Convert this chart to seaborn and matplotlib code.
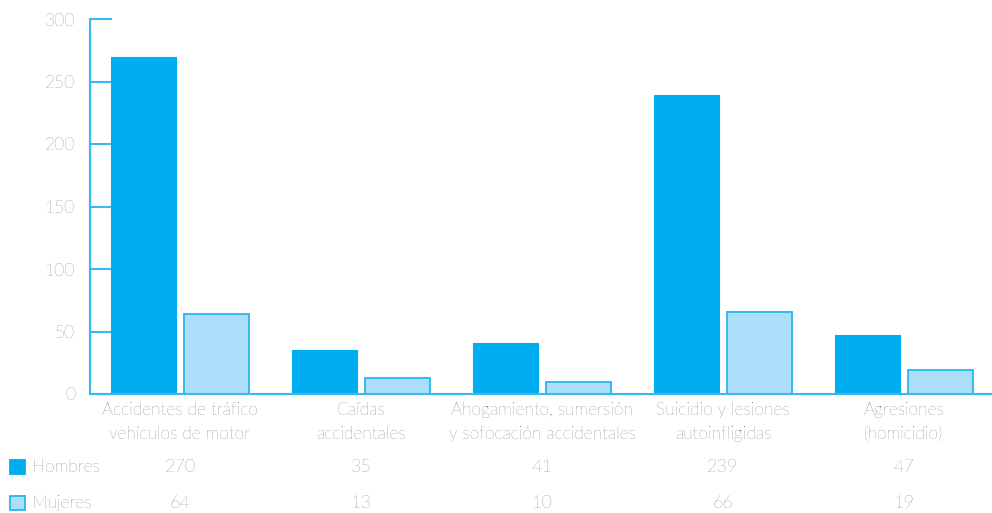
import matplotlib
matplotlib.use("Agg")
import matplotlib.pyplot as plt
from matplotlib.patches import Rectangle
from matplotlib.transforms import blended_transform_factory
import pandas as pd
import seaborn as sns

categories = [
    "Accidentes de tráfico\nvehículos de motor",
    "Caídas\naccidentales",
    "Ahogamiento, sumersión\ny sofocación accidentales",
    "Suicidio y lesiones\nautoinfligidas",
    "Agresiones\n(homicidio)",
]
series_names = ["Hombres", "Mujeres"]
hombres = [270, 35, 41, 239, 47]
mujeres = [64, 13, 10, 66, 19]
y_ticks = [0, 50, 100, 150, 200, 250, 300]

c_hombres = "#00AEEF"
c_mujeres = "#ABDFF9"
c_edge = "#29B6EE"
c_axis = "#3BB8EC"
c_text = "#404040"

sns.set_theme(style="white")
plt.rcParams["font.family"] = ["Lato", "DejaVu Sans"]
plt.rcParams["font.weight"] = "light"

df = pd.DataFrame({
    "categoria": categories * 2,
    "sexo": [series_names[0]] * len(categories) + [series_names[1]] * len(categories),
    "valor": hombres + mujeres,
})

W, H = 992, 513
fig = plt.figure(figsize=(W / 100, H / 100), dpi=100)
left_px, bottom_px, top_px = 89.5, 394, 19
ax = fig.add_axes([left_px / W, 1 - bottom_px / H, (W - left_px) / W, (bottom_px - top_px) / H])

sns.barplot(data=df, x="categoria", y="valor", hue="sexo", order=categories,
            hue_order=series_names, palette=[c_hombres, c_mujeres],
            width=0.8, gap=0.1, saturation=1, legend=False, ax=ax)

for bar in ax.containers[0]:
    bar.set_edgecolor(c_hombres)
    bar.set_linewidth(0.8)
for bar in ax.containers[1]:
    bar.set_edgecolor(c_edge)
    bar.set_linewidth(1.3)

ax.set_xlim(-0.5, -0.5 + (W - left_px) / 181)
ax.set_ylim(0, 300)
ax.set_yticks(y_ticks)
ax.set_xlabel("")
ax.set_ylabel("")

for side in ["top", "right"]:
    ax.spines[side].set_visible(False)
for side in ["left", "bottom"]:
    ax.spines[side].set_color(c_axis)
    ax.spines[side].set_linewidth(1.5)

# y ticks point inward from the spine, labels stay on the left
ax.tick_params(axis="y", direction="in", length=16, width=1.5, color=c_axis,
               labelsize=12.5, labelcolor=c_text, pad=10.5, left=True)
ax.tick_params(axis="x", length=0, labelsize=12.5, labelcolor=c_text, pad=6)
for lbl in ax.get_xticklabels():
    lbl.set_linespacing(1.6)

# data table under the chart
trans = blended_transform_factory(ax.transData, fig.transFigure)
rows = [(hombres, 467), (mujeres, 503)]
for vals, ypx in rows:
    for i, v in enumerate(vals):
        ax.text(i, 1 - ypx / H, str(v), transform=trans, ha="center", va="center",
                fontsize=13, color=c_text)

for name, ypx, face, edge in [(series_names[0], 467, c_hombres, c_hombres),
                              (series_names[1], 503, c_mujeres, c_edge)]:
    fig.patches.append(Rectangle((10 / W, 1 - (ypx + 7) / H), 15 / W, 14 / H,
                                 transform=fig.transFigure, facecolor=face,
                                 edgecolor=edge, linewidth=1.3))
    fig.text(32 / W, 1 - ypx / H, name, ha="left", va="center",
             fontsize=12.5, color=c_text)

fig.savefig("out.png", dpi=100)
